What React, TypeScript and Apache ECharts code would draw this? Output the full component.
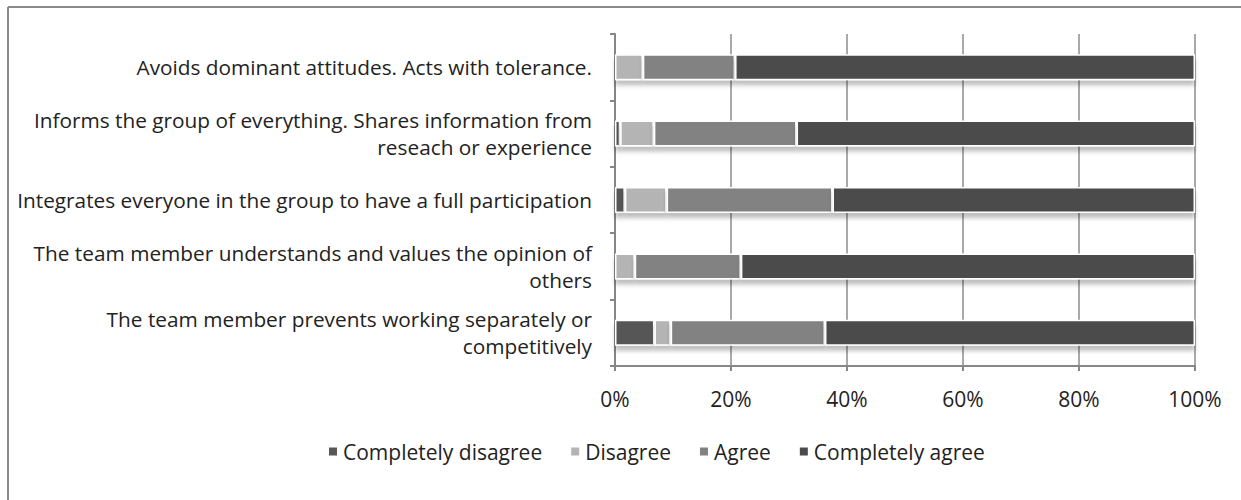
import React, { useEffect, useRef } from "react";
import * as echarts from "echarts";

const categories: string[] = [
  "Avoids dominant attitudes. Acts with tolerance.",
  "Informs the group of everything. Shares information from\nreseach or experience",
  "Integrates everyone in the group to have a full participation",
  "The team member understands and values the opinion of\nothers",
  "The team member prevents working separately or\ncompetitively",
];

const seriesNames: string[] = ["Completely disagree", "Disagree", "Agree", "Completely agree"];

const completelyDisagree: number[] = [0, 0.9, 1.7, 0, 6.8];
const disagree: number[] = [4.8, 5.8, 7.2, 3.4, 2.8];
const agree: number[] = [15.9, 24.6, 28.6, 18.3, 26.6];
const completelyAgree: number[] = [79.3, 68.7, 62.5, 78.3, 63.8];

const xTicks: number[] = [0, 20, 40, 60, 80, 100];

const colors: string[] = ["#575757", "#b4b4b4", "#828282", "#4b4b4b"];

const FONT = "Open Sans";

export default function App() {
  const ref = useRef<HTMLDivElement>(null);
  useEffect(() => {
    document.body.style.margin = "0";
    const chart = echarts.init(ref.current!, undefined, { renderer: "svg" });
    const values = [completelyDisagree, disagree, agree, completelyAgree];
    chart.setOption({
      animation: false,
      backgroundColor: "#ffffff",
      textStyle: { fontFamily: FONT, color: "#222" },
      grid: { left: 615, right: 46, top: 34, bottom: 134, containLabel: false },
      legend: {
        left: 322,
        top: 436,
        itemWidth: 10,
        itemHeight: 10,
        itemGap: 27,
        icon: "rect",
        textStyle: { fontFamily: FONT, fontSize: 21, color: "#222" },
        data: seriesNames,
      },
      xAxis: {
        type: "value",
        min: 0,
        max: 100,
        interval: 20,
        axisLine: { show: true, lineStyle: { color: "#868686", width: 2 } },
        axisTick: { show: true, length: 5, lineStyle: { color: "#868686", width: 2 } },
        splitLine: { show: true, lineStyle: { color: "#8c8c8c", width: 1.5 } },
        axisLabel: {
          margin: 22,
          fontFamily: FONT,
          fontSize: 21,
          color: "#222",
          formatter: (v: number) => (xTicks.includes(v) ? v + "%" : ""),
        },
      },
      yAxis: {
        type: "category",
        inverse: true,
        data: categories,
        axisLine: { show: true, lineStyle: { color: "#868686", width: 2 } },
        axisTick: { show: true, length: 5, alignWithLabel: false, lineStyle: { color: "#868686", width: 2 } },
        axisLabel: {
          margin: 23,
          fontFamily: FONT,
          fontSize: 20.8,
          lineHeight: 27,
          color: "#222",
          align: "right",
        },
      },
      series: seriesNames.map((name, i) => ({
        name,
        type: "bar",
        stack: "total",
        barWidth: 26,
        data: values[i],
        itemStyle: {
          color: colors[i],
          borderColor: "#ffffff",
          borderWidth: 1.5,
          shadowColor: "rgba(0,0,0,0.25)",
          shadowBlur: 4,
          shadowOffsetY: 5,
        },
      })),
      graphic: [
        { type: "line", shape: { x1: 8, y1: 7, x2: 1241, y2: 7 }, style: { stroke: "#8a8a8a", lineWidth: 2 } },
        { type: "line", shape: { x1: 8, y1: 7, x2: 8, y2: 500 }, style: { stroke: "#8a8a8a", lineWidth: 2 } },
      ],
    });
    return () => chart.dispose();
  }, []);
  return <div ref={ref} style={{ width: 1241, height: 500 }} />;
}
